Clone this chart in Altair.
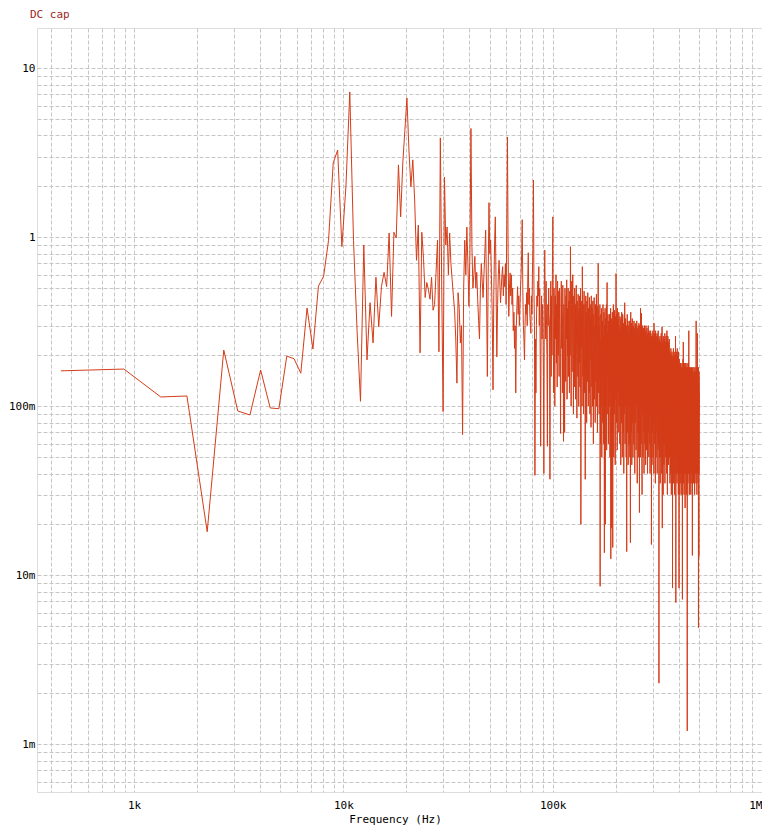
import altair as alt
import pandas as pd

# FFT bin spacing (Hz); bin k sits at k * FREQ_STEP_HZ
FREQ_STEP_HZ = 447.0

# magnitudes, bin by bin (k = 1 ...)
MAG_1_18 = [0.162, 0.166, 0.1135, 0.115, 0.0181, 0.215, 0.0938, 0.0888, 0.164, 0.0977,
            0.0967, 0.198, 0.191, 0.157, 0.381, 0.218, 0.514, 0.588]
MAG_19_53 = [0.96, 2.75, 3.28, 0.88, 1.99, 7.24, 0.96, 0.28, 0.107, 0.9,
             0.188, 0.41, 0.237, 0.58, 0.295, 0.51, 0.62, 0.51, 1.06, 0.34,
             1.07, 0.99, 2.68, 1.32, 2.75, 4.3, 6.67, 3.28, 1.99, 2.87,
             1.66, 0.73, 1.18, 0.207, 1.07]
MAG_54_110 = [0.75, 0.44, 0.54, 0.49, 0.43, 0.58, 0.37, 0.40, 0.62, 0.96,
              0.21, 3.87, 0.5, 0.093, 2.27, 0.9, 1.15, 0.6, 1.06, 0.7,
              0.56, 0.45, 0.37, 0.25, 0.137, 0.47, 0.38, 0.237, 0.3, 0.068,
              0.5, 0.96, 0.6, 1.15, 0.7, 0.39, 0.8, 4.4, 0.88, 0.5,
              0.6, 0.77, 0.5, 0.62, 0.43, 0.32, 0.25, 0.5, 0.70, 0.55,
              0.44, 0.6, 0.8, 1.1, 0.5, 0.15, 0.6]
MAG_111_215 = [1.6, 0.8, 0.96, 0.6, 0.35, 0.125, 0.45, 0.9, 1.32, 0.5,
               0.196, 0.4, 0.6, 0.73, 0.55, 0.41, 0.5, 0.6, 0.67, 0.45,
               0.6, 0.51, 0.7, 0.4, 1.2, 3.92, 0.8, 0.34, 0.5, 0.615,
               0.45, 0.6, 0.4, 0.5, 0.28, 0.36, 0.22, 0.3, 0.12, 0.3,
               0.4, 0.51, 0.35, 0.45, 0.3, 0.39, 0.5, 0.6, 0.8, 1.27,
               0.5, 0.3, 0.25, 0.188, 0.3, 0.4, 0.35, 0.47, 0.3, 0.55,
               0.81, 0.4, 0.5, 0.35, 0.3, 0.27, 0.45, 0.35, 0.6, 0.9,
               2.18, 0.5, 0.3, 0.039, 0.25, 0.12, 0.3, 0.45, 0.39, 0.55,
               0.45, 0.67, 0.3, 0.5, 0.2, 0.058, 0.35, 0.45, 0.25, 0.4,
               0.3, 0.15, 0.04, 0.5, 0.84, 0.4, 0.25, 0.55, 0.3, 0.2,
               0.058, 0.4, 0.3, 0.5, 0.35]
MAG_216_373 = [0.3, 0.037, 0.25, 0.55, 0.15, 0.45, 0.2, 0.6, 1.32, 0.3, 0.12, 0.5, 0.35, 0.1, 0.45, 0.25,
               0.6, 0.18, 0.4, 0.13, 0.55, 0.3, 0.2, 0.48,
               0.15, 0.5, 0.3, 0.2, 0.069, 0.45, 0.55, 0.22, 0.35, 0.12, 0.52, 0.28, 0.062, 0.4, 0.18, 0.07,
               0.5, 0.3, 0.14, 0.45, 0.25, 0.56, 0.11, 0.38, 0.2, 0.5, 0.15, 0.42,
               0.3, 0.12, 0.48, 0.2, 0.88, 0.35, 0.1, 0.4, 0.55, 0.16, 0.32, 0.6, 0.22, 0.09, 0.45, 0.3,
               0.13, 0.5, 0.25, 0.4, 0.11, 0.35, 0.52, 0.2, 0.085, 0.42, 0.28, 0.15, 0.46, 0.24, 0.1,
               0.38, 0.18, 0.45, 0.13, 0.3, 0.5, 0.02, 0.35, 0.22, 0.42, 0.1, 0.67, 0.28, 0.15, 0.4, 0.09,
               0.33, 0.48, 0.2, 0.12, 0.4, 0.037, 0.3, 0.45, 0.17, 0.36, 0.08, 0.42, 0.25, 0.14, 0.47, 0.3,
               0.1, 0.38, 0.21,
               0.12, 0.44, 0.27, 0.09, 0.4, 0.19, 0.33, 0.075, 0.45, 0.23, 0.13, 0.38, 0.29, 0.1, 0.42, 0.18,
               0.06, 0.35, 0.26, 0.44, 0.11, 0.3, 0.2, 0.08, 0.4, 0.24, 0.14, 0.36, 0.46, 0.1, 0.28, 0.17,
               0.07, 0.39, 0.25, 0.7, 0.2, 0.12, 0.34, 0.09]
MAG_374_580 = [0.3, 0.15, 0.4, 0.0086, 0.25, 0.06, 0.35, 0.18, 0.1, 0.38, 0.05, 0.28, 0.2, 0.32, 0.08, 0.4,
               0.14, 0.26, 0.06, 0.36, 0.22, 0.0136, 0.3, 0.12, 0.38, 0.02, 0.25, 0.33, 0.1, 0.18, 0.4, 0.055,
               0.3, 0.54, 0.15, 0.27, 0.09, 0.35, 0.2, 0.06, 0.32, 0.13, 0.28,
               0.1, 0.35, 0.2, 0.05, 0.3, 0.16, 0.38, 0.0125, 0.25, 0.12, 0.33, 0.019, 0.28, 0.07, 0.36, 0.2,
               0.0146, 0.3, 0.1, 0.4, 0.18, 0.05, 0.32, 0.24, 0.09, 0.37, 0.15, 0.27, 0.045, 0.34, 0.21, 0.11,
               0.61, 0.26, 0.08, 0.35, 0.16, 0.3, 0.055, 0.38, 0.2, 0.12, 0.33, 0.07, 0.28, 0.17, 0.36, 0.1,
               0.25,
               0.15, 0.3, 0.06, 0.34, 0.2, 0.1, 0.28, 0.045, 0.33, 0.17, 0.24, 0.08, 0.36, 0.13, 0.29, 0.05,
               0.22, 0.35, 0.11, 0.26, 0.07, 0.31, 0.19, 0.04, 0.3, 0.14, 0.34, 0.09, 0.41, 0.2, 0.06, 0.27,
               0.16, 0.33, 0.1, 0.25, 0.05, 0.3, 0.18, 0.0138, 0.28, 0.12, 0.35, 0.07, 0.23, 0.15, 0.32, 0.045,
               0.26, 0.19, 0.1, 0.3, 0.06, 0.22,
               0.28, 0.1, 0.32, 0.05, 0.22, 0.15, 0.0156, 0.3, 0.36, 0.12, 0.26, 0.07, 0.31, 0.18, 0.045, 0.28,
               0.13, 0.33, 0.08, 0.24, 0.2, 0.05, 0.3, 0.11, 0.27, 0.16, 0.06, 0.32, 0.22, 0.09, 0.29, 0.14,
               0.04, 0.26, 0.19, 0.31, 0.08, 0.23, 0.12, 0.3, 0.055, 0.27, 0.17, 0.1, 0.32, 0.2, 0.065, 0.035,
               0.25, 0.14, 0.29, 0.07, 0.21, 0.3, 0.11, 0.26, 0.05, 0.18, 0.31, 0.13, 0.24]
MAG_581_807 = [0.0235, 0.2, 0.3, 0.08, 0.25, 0.14, 0.05, 0.38, 0.22, 0.1, 0.28, 0.06, 0.19, 0.355, 0.12, 0.24,
               0.045, 0.03, 0.27, 0.16, 0.09, 0.3, 0.2, 0.05, 0.23, 0.13, 0.29, 0.07, 0.18, 0.26, 0.04, 0.21,
               0.11, 0.3, 0.15, 0.06, 0.25, 0.19, 0.09, 0.28, 0.13, 0.045, 0.23, 0.3, 0.1, 0.17, 0.26, 0.055,
               0.2, 0.12, 0.29, 0.08, 0.22, 0.16, 0.04, 0.27, 0.14, 0.24, 0.07, 0.3, 0.18, 0.1, 0.25, 0.05,
               0.21, 0.28, 0.12,
               0.2, 0.06, 0.27, 0.13, 0.22, 0.04, 0.25, 0.17, 0.09, 0.28, 0.12, 0.2, 0.05, 0.24, 0.15, 0.0152,
               0.26, 0.1, 0.21, 0.045, 0.27, 0.14, 0.19, 0.07, 0.25, 0.11, 0.28, 0.05, 0.18, 0.23, 0.09, 0.26,
               0.13, 0.04, 0.31, 0.2, 0.08, 0.24, 0.15, 0.27, 0.06, 0.21, 0.12, 0.25, 0.035, 0.19, 0.28, 0.1,
               0.22, 0.16, 0.05, 0.26, 0.13, 0.2, 0.07, 0.24, 0.11, 0.27, 0.04, 0.18, 0.23, 0.09, 0.26, 0.14,
               0.055, 0.21, 0.28, 0.12, 0.19, 0.06, 0.24, 0.16, 0.0023, 0.22, 0.1,
               0.25, 0.05, 0.18, 0.22, 0.08, 0.26, 0.13, 0.035, 0.2, 0.24, 0.1, 0.17, 0.05, 0.23, 0.14, 0.27,
               0.07, 0.19, 0.12, 0.25, 0.04, 0.21, 0.295, 0.09, 0.019, 0.16, 0.24, 0.11, 0.06, 0.22, 0.18, 0.03,
               0.26, 0.13, 0.2, 0.08, 0.23, 0.15, 0.045, 0.25, 0.1, 0.19, 0.06, 0.22, 0.14, 0.27, 0.035, 0.17,
               0.24, 0.09, 0.2, 0.12, 0.05, 0.23, 0.16, 0.26, 0.07, 0.18, 0.11, 0.24, 0.04, 0.21, 0.14, 0.28,
               0.08, 0.19, 0.25, 0.03, 0.16, 0.22, 0.1, 0.26, 0.06, 0.2, 0.13, 0.23, 0.045, 0.18, 0.24, 0.09,
               0.15, 0.21, 0.05, 0.25, 0.12]
MAG_808_1120 = [0.2, 0.05, 0.15, 0.09, 0.21, 0.035, 0.12, 0.18, 0.06, 0.2,
                0.1, 0.04, 0.16, 0.22, 0.07, 0.13, 0.19, 0.03, 0.11, 0.2,
                0.08, 0.15, 0.05, 0.21, 0.12, 0.04, 0.17, 0.09, 0.0084, 0.19,
                0.13, 0.06, 0.2, 0.1, 0.16, 0.035, 0.22, 0.08, 0.14, 0.05,
                0.18, 0.11, 0.2, 0.04, 0.15, 0.07, 0.19, 0.12, 0.03, 0.17,
                0.21, 0.09, 0.13, 0.05, 0.2, 0.1, 0.26, 0.06, 0.16, 0.0069,
                0.19, 0.11, 0.04, 0.21, 0.14, 0.08, 0.18, 0.05, 0.12, 0.2,
                0.035, 0.16, 0.09, 0.22, 0.06, 0.13, 0.19, 0.04, 0.15, 0.1,
                0.2, 0.07, 0.17, 0.03, 0.12, 0.21, 0.08, 0.14, 0.05, 0.18,
                0.0084, 0.11, 0.19, 0.06,
                0.16, 0.04, 0.12, 0.07, 0.17, 0.03, 0.1, 0.15, 0.05, 0.13,
                0.18, 0.06, 0.09, 0.14, 0.035, 0.16, 0.11, 0.04, 0.17, 0.08,
                0.13, 0.05, 0.15, 0.1, 0.03, 0.18, 0.12, 0.06, 0.16, 0.09,
                0.0072, 0.14, 0.17, 0.05, 0.11, 0.15, 0.04, 0.19, 0.08, 0.24,
                0.13, 0.035, 0.16, 0.1, 0.06, 0.17, 0.12, 0.03, 0.15, 0.09,
                0.18, 0.05, 0.13, 0.11, 0.04, 0.16, 0.07, 0.14, 0.025, 0.17,
                0.1, 0.06, 0.15, 0.12, 0.04, 0.18, 0.08, 0.13, 0.05, 0.16,
                0.11, 0.03, 0.17, 0.09, 0.14, 0.06, 0.15, 0.1, 0.04, 0.18,
                0.12, 0.0012, 0.16, 0.07, 0.13, 0.05, 0.17, 0.09, 0.035, 0.15,
                0.11, 0.06, 0.16, 0.13, 0.04, 0.18, 0.08, 0.14, 0.28, 0.1,
                0.05, 0.15, 0.12, 0.03, 0.17,
                0.14, 0.05, 0.11, 0.16, 0.04, 0.13, 0.08, 0.15, 0.03, 0.12,
                0.17, 0.06, 0.1, 0.14, 0.045, 0.16, 0.09, 0.13, 0.035, 0.15,
                0.11, 0.05, 0.17, 0.08, 0.12, 0.04, 0.14, 0.1, 0.16, 0.06,
                0.13, 0.03, 0.15, 0.0131, 0.09, 0.12, 0.17, 0.05, 0.11, 0.14,
                0.04, 0.16, 0.08, 0.13, 0.06, 0.15, 0.1, 0.035, 0.14, 0.12,
                0.05, 0.17, 0.09, 0.11, 0.04, 0.15, 0.13, 0.07, 0.16, 0.03,
                0.12, 0.14, 0.06, 0.1, 0.17, 0.045, 0.13, 0.08, 0.15, 0.04,
                0.11, 0.16, 0.06, 0.14, 0.09, 0.035, 0.12, 0.32, 0.05, 0.15,
                0.1, 0.13, 0.04, 0.17, 0.08, 0.12, 0.03, 0.15, 0.11, 0.06,
                0.14, 0.09, 0.27, 0.05, 0.13, 0.16, 0.04, 0.11, 0.15, 0.07,
                0.12, 0.035, 0.14, 0.1, 0.17, 0.0049, 0.13, 0.06, 0.15, 0.09,
                0.12, 0.04, 0.16, 0.0129]

# axis decades and their labels
X_DECADES = [1000.0, 10000.0, 100000.0, 1000000.0]
X_LABELS = ["1k", "10k", "100k", "1M"]
Y_DECADES = [10.0, 1.0, 0.1, 0.01, 0.001]
Y_LABELS = ["10", "1", "100m", "10m", "1m"]
X_DOMAIN = [343.6, 1000000.0]
Y_DOMAIN = [0.000522, 17.3]

mags = (MAG_1_18 + MAG_19_53 + MAG_54_110 + MAG_111_215 + MAG_216_373
        + MAG_374_580 + MAG_581_807 + MAG_808_1120)
df = pd.DataFrame({
    "freq": [FREQ_STEP_HZ * (i + 1) for i in range(len(mags))],
    "mag": mags,
})

# grid at every 1..9 multiple of each decade inside the domain
x_grid = [round(m * 10.0 ** e, 6) for e in range(2, 7) for m in range(1, 10)]
x_grid = [v for v in x_grid if X_DOMAIN[0] <= v <= X_DOMAIN[1]]
y_grid = [round(m * 10.0 ** e, 9) for e in range(-4, 2) for m in range(1, 10)]
y_grid = [v for v in y_grid if Y_DOMAIN[0] <= v <= Y_DOMAIN[1]]


def label_expr(decades, labels):
    expr = "''"
    for d, l in zip(reversed(decades), reversed(labels)):
        expr = f"abs(datum.value - {d}) < {d} * 1e-6 ? '{l}' : ({expr})"
    return expr


FONT = "DejaVu Sans Mono"
GRID_COLOR = "#c6c6c6"

x_axis = alt.Axis(
    values=x_grid, labelExpr=label_expr(X_DECADES, X_LABELS),
    grid=True, gridDash=[4, 2], gridColor=GRID_COLOR, gridWidth=1,
    ticks=False, domain=False, labelFont=FONT, labelFontSize=11, labelColor="black",
    labelPadding=7, labelOverlap=False, labelFlush=True,
    title="Frequency (Hz)", titleFont=FONT, titleFontSize=11, titleFontWeight="normal",
    titleColor="black", titlePadding=3, titleX=358, titleAlign="center",
)
y_axis = alt.Axis(
    values=y_grid, labelExpr=label_expr(Y_DECADES, Y_LABELS),
    grid=True, gridDash=[4, 2], gridColor=GRID_COLOR, gridWidth=1,
    ticks=False, domain=False, labelFont=FONT, labelFontSize=11, labelColor="black",
    labelPadding=2, labelOverlap=False, labelFlush=False, title=None,
)

chart = alt.Chart(df).mark_line(color="#d43c18", strokeWidth=1, interpolate="linear").encode(
    x=alt.X("freq:Q", scale=alt.Scale(type="log", domain=X_DOMAIN, nice=False), axis=x_axis),
    y=alt.Y("mag:Q", scale=alt.Scale(type="log", domain=Y_DOMAIN, nice=False), axis=y_axis),
    order="freq:Q",
).properties(
    width=725,
    height=764,
    title=alt.TitleParams("DC cap", anchor="start", frame="group", font=FONT, fontSize=11,
                          fontWeight="normal", color="#a0281e", offset=8, dx=-7),
    autosize=alt.AutoSizeParams(type="none"),
    padding={"left": 29, "top": 20, "right": 0, "bottom": 33},
).configure_view(
    stroke="black", strokeWidth=1.5
).configure(background="white")

chart.save("out.html", embed_options={"renderer": "svg", "actions": False})
